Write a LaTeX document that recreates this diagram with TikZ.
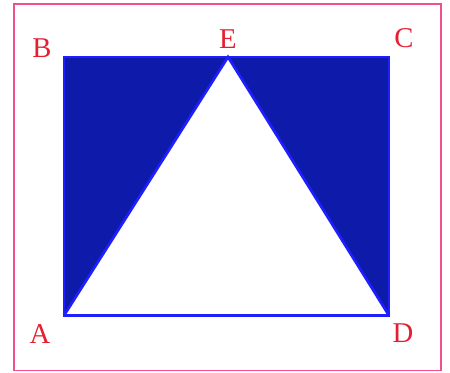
\documentclass[tikz,border=0pt]{standalone}
\usepackage{fontspec}
\setmainfont{Liberation Serif}
\usetikzlibrary{positioning}

\definecolor{framepink}{RGB}{240,80,140}
\definecolor{shadeblue}{RGB}{14,26,170}
\definecolor{edgeblue}{RGB}{30,30,255}
\definecolor{labelred}{RGB}{230,30,50}

\begin{document}
\begin{tikzpicture}[
    x=0.75pt, y=-0.75pt,
    ptlabel/.style={text=labelred, font=\fontsize{21.5}{21.5}\selectfont, inner sep=0pt},
    edge/.style={draw=edgeblue, line width=2pt, line join=miter}
]
\useasboundingbox (0,0) rectangle (450,372);

% outer frame
\draw[framepink, line width=1.2pt] (14,4) rectangle (441,370.5);

% corner points
\coordinate (A) at (64,315.5);
\coordinate (B) at (64,57);
\coordinate (C) at (389,57);
\coordinate (D) at (389,315.5);
\coordinate (E) at (228,57);

% shaded rectangle and white triangle
\fill[shadeblue] (A) -- (B) -- (C) -- (D) -- cycle;
\fill[white] (A) -- (E) -- (D) -- cycle;
\draw[edge] (A) -- (B) -- (C) -- (D) -- cycle;
\draw[edge] (A) -- (E) -- (D);

% labels
\node[ptlabel] (labA) at (40,334) {A};
\node[ptlabel] (labB) at (42,48) {B};
\node[ptlabel] (labC) at (404,38) {C};
\node[ptlabel] (labD) at (403,333) {D};
\node[ptlabel] (labE) at (228,39) {E};
\end{tikzpicture}
\end{document}
